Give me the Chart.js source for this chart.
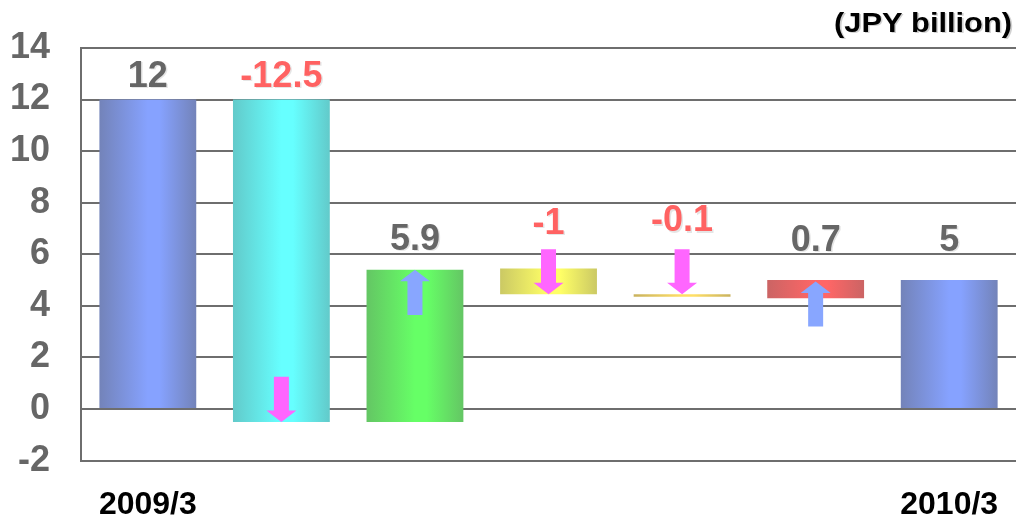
<!DOCTYPE html>
<html>
<head>
<meta charset="utf-8">
<script src="https://cdn.jsdelivr.net/npm/chart.js@4.4.0/dist/chart.umd.min.js"></script>
<style>
html,body{margin:0;padding:0;background:#ffffff;}
#wrap{width:1016px;height:520px;position:relative;}
</style>
</head>
<body>
<div id="wrap"><canvas id="c" width="1016" height="520"></canvas></div>
<script>
// ---- data ----
const categories = ['2009/3', '', '', '', '', '', '2010/3'];
const barStart = [0, -0.5, -0.5, 5.45, 4.45, 4.3, 0];
const barEnd   = [12, 12, 5.4, 4.45, 4.35, 5.0, 5];
const changeLabels = ['12', '-12.5', '5.9', '-1', '-0.1', '0.7', '5'];
const arrowFrom = [null, 1.25, 3.65, 6.2, 6.2, 3.2, null];
const arrowTo   = [null, -0.5, 5.4, 4.45, 4.45, 4.95, null];
const yTicks = [-2, 0, 2, 4, 6, 8, 10, 12, 14];
const unitText = '(JPY billion)';

// ---- style ----
const FONT = "'Liberation Sans', Arial, Helvetica, sans-serif";
const edgeColors = ['#7383b9', '#62caca', '#64c664', '#cbc964', '#c9b25e', '#cb6464', '#7383b9'];
const midColors  = ['#86a2ff', '#66ffff', '#66ff66', '#ffff66', '#ffdf66', '#ff6666', '#86a2ff'];
const labelBase  = [12.5, 12.5, 6.17, 6.8, 6.9, 6.13, 6.13];
const BAR_FRAC = 0.725;

function barFill(ctx) {
  const chart = ctx.chart;
  const i = ctx.dataIndex;
  if (!chart.chartArea || ctx.type !== 'data') return midColors[i];
  const xs = chart.scales.x;
  const cx = xs.getPixelForValue(i);
  const catW = xs.width / categories.length;
  const hw = catW * BAR_FRAC / 2;
  const g = chart.ctx.createLinearGradient(cx - hw, 0, cx + hw, 0);
  g.addColorStop(0, edgeColors[i]);
  g.addColorStop(0.5, midColors[i]);
  g.addColorStop(0.62, midColors[i]);
  g.addColorStop(1, edgeColors[i]);
  return g;
}

const overlay = {
  id: 'overlay',
  afterDatasetsDraw(chart) {
    const {ctx} = chart;
    const x = chart.scales.x, y = chart.scales.y;
    ctx.save();
    arrowFrom.forEach((from, i) => {
      if (from == null) return;
      const to = arrowTo[i];
      const cx = x.getPixelForValue(i);
      const y0 = y.getPixelForValue(from), y1 = y.getPixelForValue(to);
      const dir = Math.sign(y1 - y0);
      const headLen = 11.5, shaftHalf = 7.5, headHalf = 15;
      const yh = y1 - dir * headLen;
      ctx.beginPath();
      ctx.moveTo(cx - shaftHalf, y0);
      ctx.lineTo(cx + shaftHalf, y0);
      ctx.lineTo(cx + shaftHalf, yh);
      ctx.lineTo(cx + headHalf, yh);
      ctx.lineTo(cx, y1);
      ctx.lineTo(cx - headHalf, yh);
      ctx.lineTo(cx - shaftHalf, yh);
      ctx.closePath();
      ctx.fillStyle = dir > 0 ? '#ff66ff' : '#88a6ff';
      ctx.fill();
    });
    ctx.font = 'bold 36px ' + FONT;
    ctx.textAlign = 'center';
    ctx.textBaseline = 'alphabetic';
    changeLabels.forEach((t, i) => {
      const cx = x.getPixelForValue(i);
      const py = y.getPixelForValue(labelBase[i]);
      ctx.fillStyle = 'rgba(0,0,0,0.10)';
      ctx.fillText(t, cx + 1.5, py + 1.5);
      ctx.fillStyle = t.startsWith('-') ? '#ff6262' : '#666666';
      ctx.fillText(t, cx, py);
    });
    // unit caption, top right
    ctx.font = 'bold 28px ' + FONT;
    ctx.textAlign = 'right';
    ctx.textBaseline = 'middle';
    ctx.translate(chart.width - 4, 24);
    ctx.scale(1.1, 1);
    ctx.fillStyle = 'rgba(0,0,0,0.18)';
    ctx.fillText(unitText, 1.5, 1.5);
    ctx.fillStyle = '#000000';
    ctx.fillText(unitText, 0, 0);
    ctx.restore();
  }
};

new Chart(document.getElementById('c'), {
  type: 'bar',
  data: {
    labels: categories,
    datasets: [{
      data: categories.map((c, i) => [barStart[i], barEnd[i]]),
      backgroundColor: barFill,
      borderWidth: 0,
      borderSkipped: false,
      categoryPercentage: 1,
      barPercentage: BAR_FRAC
    }]
  },
  options: {
    responsive: false,
    devicePixelRatio: 1,
    animation: false,
    layout: { padding: { left: -21, right: -7, top: 48, bottom: -29 } },
    plugins: {
      legend: { display: false },
      tooltip: { enabled: false },
      title: { display: false }
    },
    scales: {
      x: {
        afterFit: s => { s.paddingLeft = 0; s.paddingRight = 0; },
        grid: { display: false, drawTicks: false },
        border: { display: false },
        ticks: {
          color: '#000000',
          font: { family: FONT, size: 32, weight: 'bold' },
          padding: 25,
          maxRotation: 0,
          autoSkip: false
        }
      },
      y: {
        min: -2,
        max: 14,
        afterFit: s => { s.paddingTop = 0; s.paddingBottom = 0; },
        afterBuildTicks: s => { s.ticks = yTicks.map(v => ({ value: v })); },
        ticks: {
          color: '#666666',
          font: { family: FONT, size: 36, weight: 'bold' },
          padding: 31
        },
        grid: { color: '#6e6e6e', lineWidth: 2, drawTicks: false },
        border: { display: true, color: '#6e6e6e', width: 2 }
      }
    }
  },
  plugins: [overlay]
});
</script>
</body>
</html>
